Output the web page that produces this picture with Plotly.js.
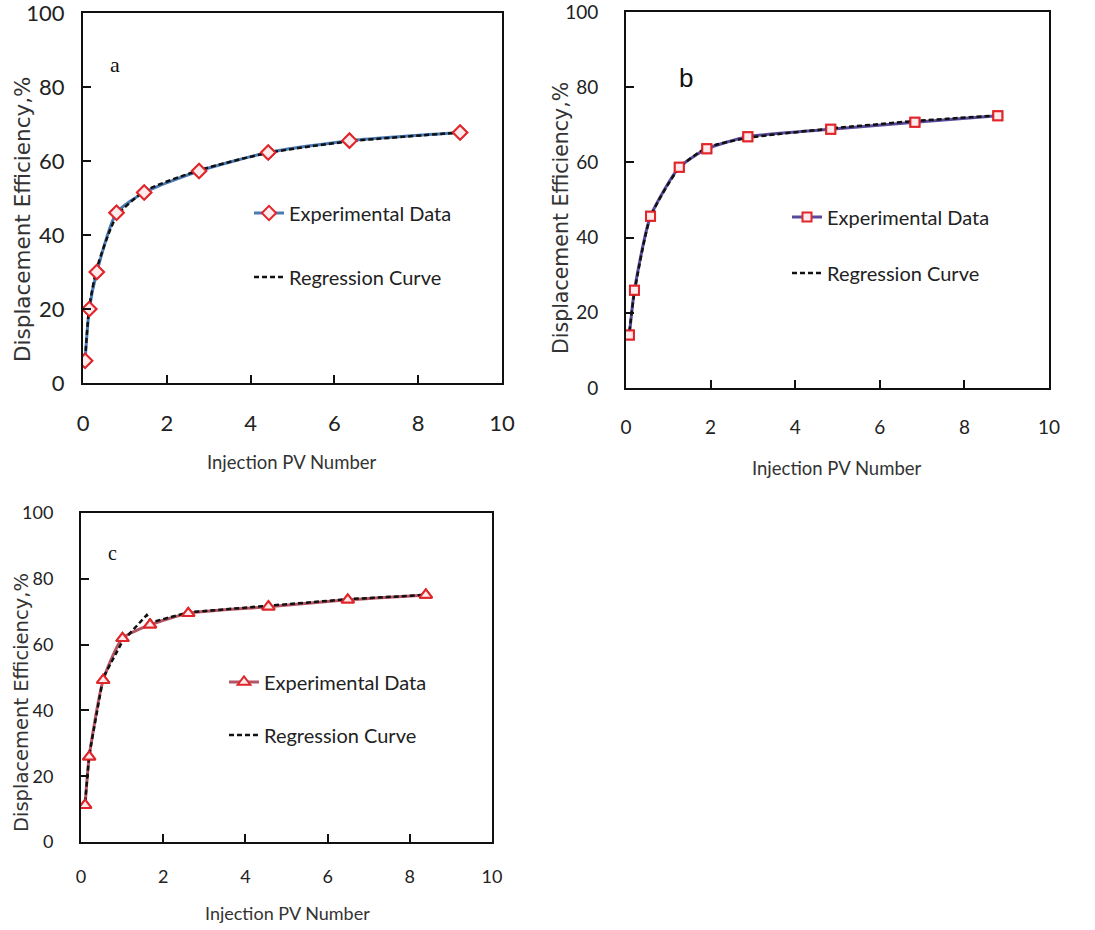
<!DOCTYPE html>
<html>
<head>
<meta charset="utf-8">
<script src="https://cdn.plot.ly/plotly-3.0.1.min.js"></script>
<style>html,body{margin:0;padding:0;background:#fff;}#chart{width:1095px;height:930px;}</style>
</head>
<body>
<div id="chart"></div>
<script>
// Panel a
var aPV = [0.05, 0.15, 0.33, 0.8, 1.46, 2.77, 4.42, 6.36, 9.0];
var aEff = [6, 20, 30, 46, 51.5, 57.3, 62.3, 65.5, 67.7];
var aRegPV = [0.05, 0.15, 0.33, 0.8, 1.46, 2.77, 4.42, 6.36, 9.0];
var aRegEff = [6.5, 20.5, 31, 45, 51.8, 57.5, 62.2, 65.3, 67.7];
// Panel b
var bPV = [0.08, 0.2, 0.58, 1.26, 1.91, 2.88, 4.84, 6.83, 8.79];
var bEff = [14.1, 26, 45.7, 58.7, 63.6, 66.8, 68.8, 70.7, 72.4];
var bRegPV = [0.08, 0.2, 0.58, 1.26, 1.91, 2.88, 4.84, 6.83, 8.79];
var bRegEff = [15, 25.5, 45.5, 58.5, 63.9, 66.5, 69.0, 71.0, 72.5];
// Panel c
var cPV = [0.1, 0.2, 0.54, 1.01, 1.68, 2.61, 4.56, 6.49, 8.39];
var cEff = [11.2, 25.9, 49.2, 61.9, 66, 69.5, 71.5, 73.6, 75.1];
var cRegPV = [0.1, 0.2, 0.54, 1.01, 1.6, 1.72, 2.61, 4.56, 6.49, 8.39];
var cRegEff = [12, 26.5, 50, 61, 69, 66.8, 69.8, 71.8, 73.8, 75.1];

var xTicks = [0, 2, 4, 6, 8, 10];
var yTicks = [0, 20, 40, 60, 80, 100];
var seriesNames = ['Experimental Data', 'Regression Curve'];
var xTitle = 'Injection PV Number';
var yTitle = 'Displacement Efficiency,%';

var W = 1095, H = 930;
function px(x){return x / W;}
function py(y){return 1 - y / H;}

var markerRed = '#e0262b';
var panels = [
  {pv:aPV, eff:aEff, rpv:aRegPV, reff:aRegEff, color:'#4a7ab5', sym:'diamond', msize:11, shape:'spline',
   xa:'x', ya:'y', dom:[83,502,13,383], tick:22, xstand:20, ystand:12, leg:['legend','legend2'], legX:249, legY:[213,277],
   xt:[292,462,18.5], yt:[22,220,21.5], label:{t:'a', x:115, y:64, f:'Liberation Serif', s:22}},
  {pv:bPV, eff:bEff, rpv:bRegPV, reff:bRegEff, color:'#5b4a9c', sym:'square', msize:9, shape:'spline',
   xa:'x2', ya:'y2', dom:[626,1049,12,388], tick:19, xstand:21, ystand:22, leg:['legend3','legend4'], legX:787, legY:[217,273],
   xt:[837,468,18.5], yt:[561,218,20.5], label:{t:'b', x:686, y:78, f:'Liberation Sans', s:26}},
  {pv:cPV, eff:cEff, rpv:cRegPV, reff:cRegEff, color:'#b45464', sym:'triangle-up', msize:11, shape:'spline',
   xa:'x3', ya:'y3', dom:[81,492,513,842], tick:18, xstand:17, ystand:22, leg:['legend5','legend6'], legX:224, legY:[682,735],
   xt:[287,913,18], yt:[21,703,19.5], label:{t:'c', x:112, y:553, f:'Liberation Serif', s:20}}
];

var traces = [];
var layout = {
  width: W, height: H, autosize: false,
  margin: {l:0, r:0, t:0, b:0},
  paper_bgcolor: '#fff', plot_bgcolor: '#fff',
  font: {family: 'Lato, "Open Sans", sans-serif', color: '#222'},
  showlegend: true,
  annotations: []
};

panels.forEach(function(p, i){
  var n = i === 0 ? '' : String(i + 1);
  traces.push({type:'scatter', mode:'lines+markers', x:p.pv, y:p.eff, xaxis:p.xa, yaxis:p.ya,
    name: seriesNames[0], legend: p.leg[0],
    line:{color:p.color, width:3, shape:p.shape, smoothing:0.6},
    marker:{symbol:p.sym, size:p.msize, color:'rgba(255,235,235,1)', line:{color:markerRed, width:2}}});
  traces.push({type:'scatter', mode:'lines', x:p.rpv, y:p.reff, xaxis:p.xa, yaxis:p.ya,
    name: seriesNames[1], legend: p.leg[1],
    line:{color:'#111', width:2.5, dash:'5px,3px', shape: i === 2 ? 'linear' : 'spline', smoothing:0.6}});
  traces.push({type:'scatter', mode:'markers', x:p.pv, y:p.eff, xaxis:p.xa, yaxis:p.ya,
    showlegend:false, hoverinfo:'skip',
    marker:{symbol:p.sym, size:p.msize, color:'rgba(255,235,235,1)', line:{color:markerRed, width:2}}});

  var axBase = {showline:true, mirror:true, linecolor:'#111', linewidth:2,
    ticks:'inside', ticklen:8, tickwidth:2, tickcolor:'#111',
    showgrid:false, zeroline:false, fixedrange:true, ticklabeloverflow:'allow',
    tickfont:{family:'Lato, sans-serif', size:p.tick, color:'#222'}};
  layout['xaxis' + n] = Object.assign({}, axBase, {
    domain:[px(p.dom[0]), px(p.dom[1])], range:[0, 10], tickvals:xTicks,
    ticktext: xTicks.map(String), anchor: 'y' + n, ticklabelstandoff: p.xstand});
  layout['yaxis' + n] = Object.assign({}, axBase, {
    domain:[py(p.dom[3]), py(p.dom[2])], range:[0, 100], tickvals:yTicks,
    ticktext: yTicks.map(String), anchor: 'x' + n, ticklabelstandoff: p.ystand});

  p.leg.forEach(function(lg, k){
    layout[lg] = {x: px(p.legX), y: py(p.legY[k]), xanchor:'left', yanchor:'middle',
      bgcolor:'rgba(0,0,0,0)', borderwidth:0,
      font:{family:'Lato, sans-serif', size:20, color:'#222'}};
  });

  layout.annotations.push({xref:'paper', yref:'paper', x:px(p.xt[0]), y:py(p.xt[1]),
    text:xTitle, showarrow:false, xanchor:'center', yanchor:'middle',
    font:{family:'Lato, sans-serif', size:p.xt[2], color:'#333'}});
  layout.annotations.push({xref:'paper', yref:'paper', x:px(p.yt[0]), y:py(p.yt[1]),
    text:yTitle, showarrow:false, xanchor:'center', yanchor:'middle', textangle:-90,
    font:{family:'"DejaVu Sans", sans-serif', size:p.yt[2], color:'#333'}});
  layout.annotations.push({xref:'paper', yref:'paper', x:px(p.label.x), y:py(p.label.y),
    text:p.label.t, showarrow:false, xanchor:'center', yanchor:'middle',
    font:{family:p.label.f, size:p.label.s, color:'#111'}});
});

Plotly.newPlot('chart', traces, layout, {staticPlot:true, displayModeBar:false});
</script>
</body>
</html>
